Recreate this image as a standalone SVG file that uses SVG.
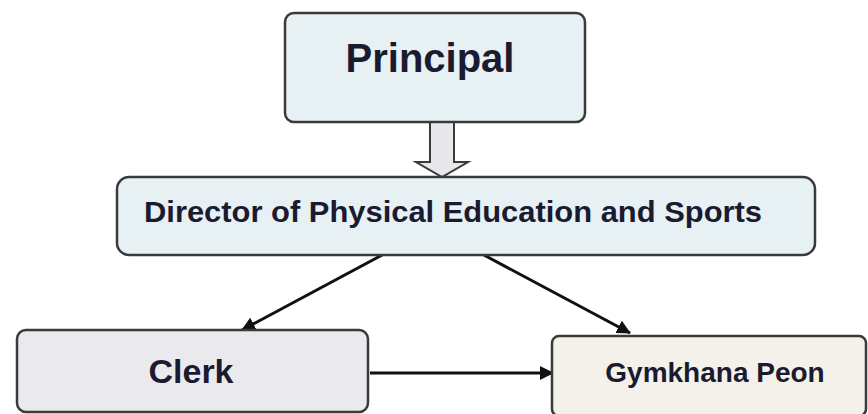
<svg xmlns="http://www.w3.org/2000/svg" width="868" height="414" viewBox="0 0 868 414">
<defs>
<style>
.box{stroke:#3a3a3a;stroke-width:2.5}
.t{font-family:"Liberation Sans",Arial,sans-serif;font-weight:bold;fill:#1a1a30;text-anchor:middle}
.c{stroke:#111;stroke-width:3;fill:none}
</style>
<marker id="ah" markerWidth="8" markerHeight="8" refX="7" refY="4" orient="auto" markerUnits="userSpaceOnUse" viewBox="0 0 8 8">
<path d="M0,0 L8,4 L0,8 Z" fill="#111"/>
</marker>
<marker id="ah2" markerWidth="14" markerHeight="14" refX="13" refY="7" orient="auto" markerUnits="userSpaceOnUse" viewBox="0 0 14 14">
<path d="M0,0 L14,7 L0,14 Z" fill="#111"/>
</marker>
</defs>
<rect width="868" height="414" fill="#ffffff"/>
<g id="connectors">
<path d="M430,122 L454,122 L454,162 L468,162 L442,177 L416,162 L430,162 Z" fill="#e8e8ec" stroke="#3a3a3a" stroke-width="2"/>
<line class="c" x1="384" y1="254" x2="242" y2="330" marker-end="url(#ah2)"/>
<line class="c" x1="482" y1="254" x2="630" y2="333" stroke-width="2.5" marker-end="url(#ah2)"/>
<line class="c" x1="370" y1="373" x2="553" y2="373" marker-end="url(#ah2)"/>
</g>
<g id="principal">
<rect class="box" x="285" y="13" width="300" height="109" rx="9" fill="#e7f0f2"/>
<text class="t" x="430" y="72" font-size="40">Principal</text>
</g>
<g id="director">
<rect class="box" x="117" y="177" width="698" height="78" rx="12" fill="#e7f0f2"/>
<text class="t" x="453" y="222" font-size="30" textLength="618" lengthAdjust="spacingAndGlyphs">Director of Physical Education and Sports</text>
</g>
<g id="clerk">
<rect class="box" x="17" y="330" width="351" height="82" rx="9" fill="#eaeaee"/>
<text class="t" x="191" y="383" font-size="34">Clerk</text>
</g>
<g id="gymkhana">
<rect class="box" x="552" y="336" width="314" height="80" rx="7" fill="#f3f1ea"/>
<text class="t" x="715" y="382" font-size="28">Gymkhana Peon</text>
</g>
</svg>
